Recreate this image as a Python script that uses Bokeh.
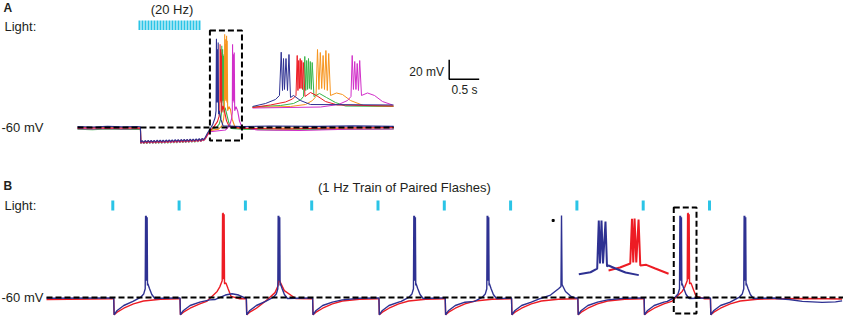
from bokeh.plotting import figure
from bokeh.models import Range1d, Label
from bokeh.layouts import column
from bokeh.embed import file_html
from bokeh.resources import INLINE

# ---------------- DATA ----------------
# Panel A : 20 Hz light train, time in s, membrane potential in mV
a_light_t = [1.033, 1.083, 1.133, 1.183, 1.233, 1.283, 1.333, 1.383, 1.433, 1.483, 1.533,
             1.583, 1.633, 1.683, 1.733, 1.783, 1.833, 1.883, 1.933, 1.983, 2.033]
a_ripple_trough = [-75.8, -75.8, -75.7, -75.6, -75.6, -75.5, -75.4, -75.4, -75.3, -75.2, -75.1,
                   -75.0, -74.9, -74.8, -74.7, -74.6, -74.5, -74.3, -74.2, -74.0, -73.8]
a_ripple_peak = [-74.0, -73.9, -73.8, -73.8, -73.7, -73.6, -73.5, -73.5, -73.4, -73.3, -73.2,
                 -73.1, -73.0, -72.9, -72.8, -72.7, -72.5, -72.4, -72.2, -72.0, -71.8]
a_pre_t = [0.0, 0.25, 0.5, 0.75, 1.0, 1.049]

a_blue_pre = [-59.0, -59.5, -58.8, -59.4, -59.0, -59.2]
a_blue_step_off = 0.6
a_blue_t = [2.100, 2.130, 2.160, 2.185, 2.207, 2.256, 2.294, 2.309, 2.3156, 2.3205, 2.3243, 2.328,
            2.3337, 2.3394, 2.345, 2.3508, 2.3621, 2.3887, 2.4265, 2.741, 3.2, 4.0, 4.6, 5.27]
a_blue_v = [-72.4, -70.0, -66.5, -63.8, -61.7, -56.6, -49.7, -42.9, 31.1, -34.4, 20.3, -32.6,
            20.3, -34.4, 27.2, -46.3, -42.9, -51.5, -58.3, -59.1, -58.5, -58.8, -58.3, -58.8]

a_red_pre = [-60.5, -60.0, -60.8, -60.3, -60.6, -60.5]
a_red_step_off = 0.0
a_red_t = [2.100, 2.130, 2.170, 2.207, 2.275, 2.3319, 2.3584, 2.3716, 2.3762, 2.379, 2.3818, 2.3847,
           2.3875, 2.3904, 2.3932, 2.3962, 2.3993, 2.4057, 2.4265, 2.4492, 2.4834, 2.5288, 2.741,
           3.5, 4.2, 5.27]
a_red_v = [-73.0, -71.0, -67.0, -63.4, -59.1, -54.0, -48.9, -42.9, 25.5, -34.4, 16.9, -30.9,
           20.3, -30.9, 16.9, -32.6, 13.5, -44.6, -37.8, -42.9, -53.2, -59.1, -60.9,
           -61.5, -60.5, -60.0]

a_green_pre = [-61.8, -62.2, -61.5, -62.0, -61.8, -62.0]
a_green_step_off = -0.8
a_green_t = [2.100, 2.130, 2.170, 2.207, 2.3129, 2.3622, 2.3887, 2.4000, 2.4049, 2.4085, 2.4121,
             2.4155, 2.4190, 2.4224, 2.4258, 2.4294, 2.4330, 2.4398, 2.4606, 2.4871, 2.5212,
             2.5591, 2.741, 3.3, 4.5, 5.27]
a_green_v = [-73.6, -71.5, -66.5, -62.6, -60.0, -56.6, -50.6, -44.6, 23.8, -34.4, 16.9,
             -32.6, 20.3, -30.9, 15.2, -32.6, 13.5, -44.6, -39.5, -46.3, -54.9,
             -60.9, -61.7, -62.5, -61.8, -61.5]

a_orange_pre = [-60.2, -60.6, -60.0, -60.5, -60.2, -60.3]
a_orange_step_off = -0.2
a_orange_t = [2.100, 2.130, 2.170, 2.207, 2.3508, 2.4076, 2.4341, 2.4474, 2.4531, 2.4584, 2.4637,
              2.4690, 2.4743, 2.4796, 2.4849, 2.4902, 2.4955, 2.5023, 2.5250, 2.5477, 2.5781,
              2.6273, 2.741, 3.5, 4.5, 5.27]
a_orange_v = [-73.2, -71.5, -67.0, -63.4, -61.7, -58.3, -51.5, -44.6, 35.7, -32.6, 30.6,
              -30.9, 25.5, -32.6, 34.0, -34.4, 28.9, -42.9, -38.6, -41.2, -51.5,
              -60.0, -60.9, -60.5, -60.8, -60.2]

a_mag_pre = [-61.2, -61.6, -61.0, -61.5, -61.3, -61.2]
a_mag_step_off = -0.4
a_mag_t = [2.100, 2.130, 2.170, 2.207, 2.4644, 2.5326, 2.5667, 2.5799, 2.5845, 2.5892, 2.5940,
           2.5987, 2.6034, 2.6082, 2.6129, 2.6197, 2.6424, 2.6690, 2.6993, 2.7371, 2.760,
           3.0, 3.7, 4.5, 5.27]
a_mag_v = [-73.4, -71.5, -67.5, -64.3, -62.6, -58.3, -51.5, -44.6, 25.5, -32.6, 15.2,
           -32.6, 11.8, -34.4, 16.9, -42.9, -38.6, -42.9, -53.2, -59.1, -60.0,
           -62.5, -63.0, -61.8, -61.5]

a_trace_end = 5.27
a_inset_win = [2.2069, 2.741]          # zoomed window (s)
a_box_mv = [-73.3, 39.5]
baseline_mv = -60.0
scale_mv = 20.0
scale_s = 0.5
scale_at = [6.195, -10.46]

# Panel B : 1 Hz train of paired flashes
b_light_t = [1.0, 2.0, 3.0, 4.0, 5.0, 6.0, 7.0, 8.0, 9.0, 10.0]
b_recov_dt = [0.0, 0.014, 0.020, 0.066, 0.166, 0.312, 0.463, 0.72, 0.99]
b_recov_blue = [-60.5, -60.5, -77.7, -73.3, -68.2, -64.8, -62.4, -60.8, -60.5]
b_recov_red = [-61.3, -61.3, -77.7, -75.1, -71.0, -66.5, -63.6, -61.8, -61.3]
b_blue_start = -60.7
b_red_start = -62.2
b_blue_spike_t = [1.504, 3.504, 5.550, 6.656, 9.563, 10.532]
b_blue_thin_t = [7.768]
b_blue_hump_t = [2.798]
b_red_spike_t = [2.665, 9.679]
b_red_hump_t = [3.507]
b_burst_blue_dt = [-0.20, -0.0796, -0.0386, -0.0151, -0.0095, -0.0053, 0.0, 0.0053, 0.014,
                   0.0193, 0.0246, 0.049, 0.0842, 0.1308, 0.25]
b_burst_blue_v = [-64.0, -59.5, -56.5, -51.0, 23.9, -42.9, 23.9, -42.9, 22.3,
                  -47.6, -46.0, -50.7, -56.9, -61.0, -60.8]
b_burst_red_dt = [-0.25, -0.0912, -0.0512, -0.0151, -0.0091, -0.0046, 0.0, 0.006, 0.014,
                  0.020, 0.041, 0.0726, 0.1192, 0.25]
b_burst_red_v = [-64.0, -53.8, -49.1, -42.9, 26.5, -41.4, 27.0, -41.4, 25.4,
                 -46.0, -45.0, -50.7, -58.9, -61.3]
b_thin_dt = [-0.317, -0.166, -0.045, -0.008, 0.0, 0.008, 0.06, 0.136, 0.2]
b_thin_v = [-61.0, -57.5, -51.0, -48.7, 24.0, -46.7, -53.8, -58.5, -60.5]
b_hump_blue_dt = [-0.25, -0.1, 0.0, 0.1, 0.18]
b_hump_blue_v = [-62.0, -57.5, -56.2, -57.5, -60.0]
b_hump_red_dt = [-0.2, -0.06, -0.015, 0.0, 0.02, 0.08, 0.25]
b_hump_red_v = [-63.5, -55.0, -48.0, -41.0, -44.5, -53.0, -61.0]
b_blue_tail_t = [11.0, 11.2, 11.4, 11.7, 11.9, 12.0]
b_blue_tail_v = [-61.0, -62.0, -64.0, -65.0, -64.5, -63.5]
b_red_tail_t = [11.0, 11.5, 12.0]
b_red_tail_v = [-61.3, -61.0, -61.5]
b_box_t = [9.461, 9.804]
b_box_mv = [-76.4, 32.3]
b_artifact = [7.642, 19.0]

# ---------------- STYLE ----------------
W, HA, HB = 843, 160, 157
FONT = "Liberation Sans"
C_BLUE, C_RED, C_GREEN = "#2e3192", "#ed1c24", "#39b54a"
C_ORANGE, C_MAG, C_LIGHT = "#f7941d", "#d12fc9", "#2bc4e6"
TXT = "#231f20"


def xr(px_a, t_a, s):
    return Range1d(t_a - px_a / s, t_a + (W - px_a) / s)


def yr(py_a, v_a, s, H):
    return Range1d(v_a - (H - py_a) / s, v_a + py_a / s)


def make_fig(H, x_range, y_range):
    p = figure(width=W, height=H, x_range=x_range, y_range=y_range,
               output_backend="svg", toolbar_location=None, min_border=0,
               x_axis_location=None, y_axis_location=None)
    p.outline_line_color = None
    p.grid.visible = False
    p.background_fill_color = "white"
    p.border_fill_color = "white"
    return p


def label(p, H, x, py, text, size="13px", align="left", bold=False):
    p.add_layout(Label(x=x, y=H - py, x_units="screen", y_units="screen", text=text,
                       text_font=FONT, text_font_size=size, text_align=align,
                       text_baseline="middle", text_color=TXT,
                       text_font_style="bold" if bold else "normal"))


def window(t, v, lo, hi):
    pts = [(a, b) for a, b in zip(t, v) if lo - 1e-9 <= a <= hi + 1e-9]
    return [a for a, _ in pts], [b for _, b in pts]


# ---------------- PANEL A ----------------
pA = make_fig(HA, xr(77, 0.0, 60.0), yr(127, baseline_mv, 0.975, HA))
pA.extra_x_ranges = {"ins": xr(281, 2.3167, 264.0)}
pA.extra_y_ranges = {"ins": yr(105, baseline_mv, 0.585, HA)}

pA.vbar(x=a_light_t, width=0.033, bottom=40.0, top=49.7, fill_color=C_LIGHT, line_color=None)


def a_trace(pre_v, off, bt, bv):
    t = list(a_pre_t)
    v = list(pre_v)
    for k, tl in enumerate(a_light_t):
        t += [tl + 0.022, tl + 0.045]
        v += [a_ripple_trough[k] + off, a_ripple_peak[k] + off]
    return t + list(bt), v + list(bv)


a_traces = [
    (a_green_pre, a_green_step_off, a_green_t, a_green_v, C_GREEN),
    (a_orange_pre, a_orange_step_off, a_orange_t, a_orange_v, C_ORANGE),
    (a_mag_pre, a_mag_step_off, a_mag_t, a_mag_v, C_MAG),
    (a_red_pre, a_red_step_off, a_red_t, a_red_v, C_RED),
    (a_blue_pre, a_blue_step_off, a_blue_t, a_blue_v, C_BLUE),
]
for pre, off, bt, bv, col in a_traces:
    t, v = a_trace(pre, off, bt, bv)
    pA.line(t, v, line_color=col, line_width=1.1)
for pre, off, bt, bv, col in a_traces:
    t, v = a_trace(pre, off, bt, bv)
    ti, vi = window(t, v, a_inset_win[0], a_inset_win[1])
    pA.line(ti, vi, line_color=col, line_width=1.0, x_range_name="ins", y_range_name="ins")

pA.line([0.0, a_trace_end], [baseline_mv, baseline_mv], line_color="black", line_width=2,
        line_dash="6 3")
pA.quad(left=a_inset_win[0], right=a_inset_win[1], bottom=a_box_mv[0], top=a_box_mv[1],
        fill_color=None, line_color="black", line_width=2, line_dash="6 3")
# scale bar
sx, sy = scale_at
pA.line([sx, sx, sx + scale_s], [sy + scale_mv, sy, sy], line_color="black", line_width=1.5)

label(pA, HA, 3, 7, "A", size="12px", bold=True)
label(pA, HA, 4, 26, "Light:")
label(pA, HA, 171.5, 9, "(20 Hz)", align="center")
label(pA, HA, 1, 127, "-60 mV")
label(pA, HA, 443.5, 71.5, "20 mV", size="12px", align="right")
label(pA, HA, 464, 89, "0.5 s", size="12px", align="center")

# ---------------- PANEL B ----------------
pB = make_fig(HB, xr(46, 0.0, 66.3), yr(137, baseline_mv, 0.975, HB))
pB.extra_x_ranges = {"ins": xr(601, b_blue_spike_t[4], 285.09)}
pB.extra_y_ranges = {"ins": yr(114, baseline_mv, 0.6435, HB)}

pB.vbar(x=b_light_t, width=0.045, bottom=29.2, top=39.5, fill_color=C_LIGHT, line_color=None)


def b_trace(start_v, recov_v, events, tail_t, tail_v):
    pts = [(0.0, start_v)]
    for tl in b_light_t:
        pts += [(tl + d, v) for d, v in zip(b_recov_dt, recov_v)]
    for te, (tdt, tv) in events:
        lo, hi = te + tdt[0], te + tdt[-1]
        pts = [q for q in pts if not (lo <= q[0] <= hi)]
        pts += [(te + d, v) for d, v in zip(tdt, tv)]
    pts += list(zip(tail_t, tail_v))
    pts.sort()
    return [q[0] for q in pts], [q[1] for q in pts]


blue_events = ([(t, (b_burst_blue_dt, b_burst_blue_v)) for t in b_blue_spike_t] +
               [(t, (b_thin_dt, b_thin_v)) for t in b_blue_thin_t] +
               [(t, (b_hump_blue_dt, b_hump_blue_v)) for t in b_blue_hump_t])
red_events = ([(t, (b_burst_red_dt, b_burst_red_v)) for t in b_red_spike_t] +
              [(t, (b_hump_red_dt, b_hump_red_v)) for t in b_red_hump_t])

bt_blue, bv_blue = b_trace(b_blue_start, b_recov_blue, blue_events, b_blue_tail_t, b_blue_tail_v)
bt_red, bv_red = b_trace(b_red_start, b_recov_red, red_events, b_red_tail_t, b_red_tail_v)

pB.line(bt_red, bv_red, line_color=C_RED, line_width=1.4)
pB.line(bt_blue, bv_blue, line_color=C_BLUE, line_width=1.4)

# inset : zoom of the boxed bursts
te_b = b_blue_spike_t[4]
ti, vi = window(bt_red, bv_red, b_red_spike_t[1] + b_burst_red_dt[1], b_red_spike_t[1] + b_burst_red_dt[-2])
pB.line(ti, vi, line_color=C_RED, line_width=2, x_range_name="ins", y_range_name="ins")
ti, vi = window(bt_blue, bv_blue, te_b + b_burst_blue_dt[1], te_b + b_burst_blue_dt[-2])
pB.line(ti, vi, line_color=C_BLUE, line_width=2, x_range_name="ins", y_range_name="ins")

pB.line([0.0, pB.x_range.end], [baseline_mv, baseline_mv], line_color="black", line_width=2,
        line_dash="6 3")
pB.quad(left=b_box_t[0], right=b_box_t[1], bottom=b_box_mv[0], top=b_box_mv[1],
        fill_color=None, line_color="black", line_width=2, line_dash="6 3")
pB.scatter([b_artifact[0]], [b_artifact[1]], marker="square", size=2, color="black")

label(pB, HB, 3, 25, "B", size="12px", bold=True)
label(pB, HB, 4, 45, "Light:")
label(pB, HB, 404, 27, "(1 Hz Train of Paired Flashes)", align="center")
label(pB, HB, 1, 137, "-60 mV")

layout = column(pA, pB, spacing=0)
open("out.html", "w").write(file_html(layout, INLINE, "figure"))
